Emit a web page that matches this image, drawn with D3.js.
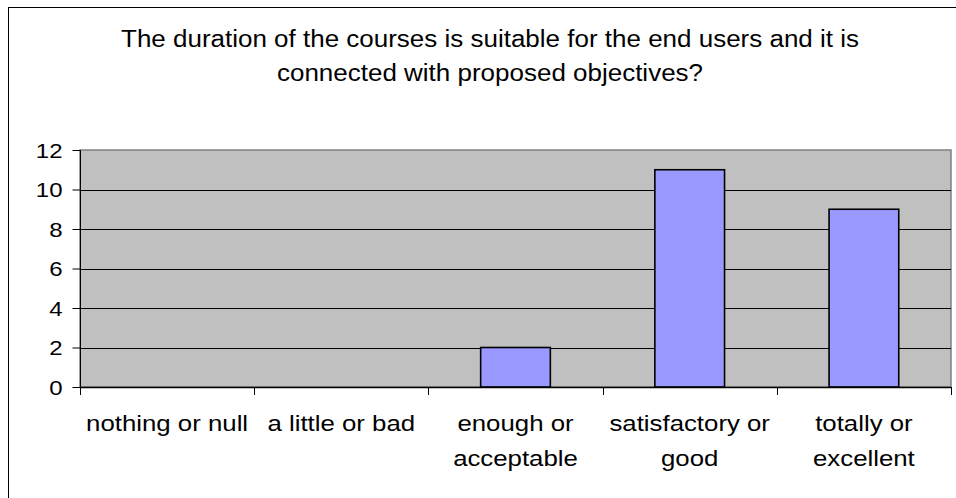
<!DOCTYPE html>
<html><head><meta charset="utf-8">
<script src="https://cdn.jsdelivr.net/npm/d3@7"></script>
<style>body{margin:0;background:#fff}svg{display:block}text{font-family:"Liberation Sans",Arial,sans-serif;fill:#000}</style>
</head><body><svg id="c" width="956" height="498"></svg>
<script>
const titleLines = ["The duration of the courses is suitable for the end users and it is", "connected with proposed objectives?"];
const categories = ["nothing or null", "a little or bad", "enough or\nacceptable", "satisfactory or\ngood", "totally or\nexcellent"];
const values = [0, 0, 2, 11, 9];
const yTicks = [0, 2, 4, 6, 8, 10, 12];

const SX = 1.2, SXT = 1.13;
const svg = d3.select("#c");
const m = {l: 80, r: 951, t: 150, b: 387};

// outer frame
svg.append("rect").attr("x", 8.5).attr("y", 7.5).attr("width", 1000).attr("height", 600)
  .attr("fill", "#fff").attr("stroke", "#000").attr("stroke-width", 1);

const x = d3.scaleBand().domain(categories).range([m.l, m.r]).paddingInner(0).paddingOuter(0);
const y = d3.scaleLinear().domain([0, 12]).range([m.b, m.t]);

// plot area
svg.append("rect").attr("x", m.l).attr("y", m.t).attr("width", m.r - m.l).attr("height", m.b - m.t)
  .attr("fill", "#c0c0c0").attr("stroke", "#808080").attr("stroke-width", 1.5);

// gridlines
svg.append("g").selectAll("line").data(yTicks.filter(d => d > 0 && d < 12)).join("line")
  .attr("x1", m.l).attr("x2", m.r).attr("y1", d => Math.round(y(d)) + 0.5).attr("y2", d => Math.round(y(d)) + 0.5)
  .attr("stroke", "#000").attr("stroke-width", 1);

// bars
const barData = values.map((v, i) => ({c: categories[i], v})).filter(d => d.v > 0);
const bw = x.bandwidth() * 0.4;
svg.append("g").selectAll("rect").data(barData).join("rect")
  .attr("x", d => x(d.c) + (x.bandwidth() - bw) / 2)
  .attr("width", bw)
  .attr("y", d => y(d.v))
  .attr("height", d => y(0) - y(d.v))
  .attr("fill", "#9999ff").attr("stroke", "#000").attr("stroke-width", 1.6);

// y axis
const yAxis = d3.axisLeft(y).tickValues(yTicks).tickSize(8).tickFormat(d3.format("d"));
const gy = svg.append("g").attr("transform", `translate(${m.l + 0.5},0)`).call(yAxis);
gy.attr("font-size", null).attr("font-family", null);
gy.select(".domain").attr("d", `M0,${m.t}V${m.b + 8}`).attr("stroke", "#000");
gy.selectAll(".tick line").attr("stroke", "#000");
gy.selectAll(".tick text")
  .attr("font-size", 20)
  .attr("x", 0).attr("dy", "0.36em")
  .attr("transform", `translate(-18,0) scale(${SX},1)`);

// x axis
const boundaries = categories.map(c => x(c)).concat([m.r]);
svg.append("line").attr("x1", m.l).attr("x2", m.r).attr("y1", m.b + 0.5).attr("y2", m.b + 0.5).attr("stroke", "#000").attr("stroke-width", 1.5);
svg.append("g").selectAll("line").data(boundaries).join("line")
  .attr("x1", d => Math.round(d) + 0.5).attr("x2", d => Math.round(d) + 0.5)
  .attr("y1", m.b).attr("y2", m.b + 8).attr("stroke", "#000");

const gx = svg.append("g");
categories.forEach(c => {
  const lines = c.split("\n");
  lines.forEach((ln, j) => {
    gx.append("text")
      .attr("transform", `translate(${x(c) + x.bandwidth() / 2},${431 + j * 35}) scale(${SX},1)`)
      .attr("text-anchor", "middle").attr("font-size", 21.5).text(ln);
  });
});

// title
titleLines.forEach((ln, j) => {
  svg.append("text")
    .attr("transform", `translate(490,${46.5 + j * 34.5}) scale(${SXT},1)`)
    .attr("text-anchor", "middle").attr("font-size", 23).text(ln);
});
</script></body></html>
